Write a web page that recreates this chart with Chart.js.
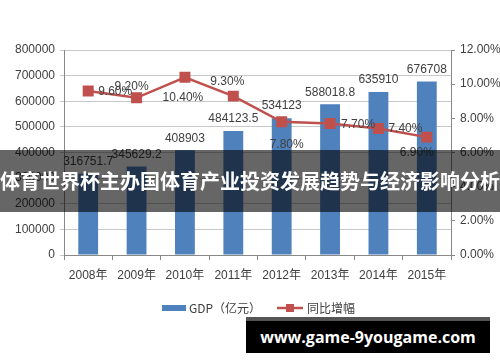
<!DOCTYPE html>
<html>
<head>
<meta charset="utf-8">
<script src="https://cdn.jsdelivr.net/npm/chart.js@4.4.1/dist/chart.umd.min.js"></script>
<style>
  html, body { margin: 0; padding: 0; background: #fff; }
  #wrap { position: relative; width: 500px; height: 362px; overflow: hidden; }
  #band {
    position: absolute; left: 0; top: 150px; width: 500px; height: 62px;
    background: rgba(0, 0, 0, 0.6); color: #fff;
    font: bold 20px "Noto Sans CJK SC", sans-serif;
    line-height: 62px; text-align: center; white-space: nowrap;
  }
  #mark {
    position: absolute; left: 246px; top: 317px; width: 244px; height: 32px;
    background: #000; border-top: 4px solid #555; color: #fff;
    font: bold 16px "Open Sans", sans-serif; line-height: 32px; text-align: center;
    white-space: nowrap;
  }
</style>
</head>
<body>
<div id="wrap">
  <canvas id="gdpChart" width="500" height="362"></canvas>
  <div id="band">体育世界杯主办国体育产业投资发展趋势与经济影响分析</div>
  <div id="mark">www.game-9yougame.com</div>
</div>
<script>
const years = ["2008年", "2009年", "2010年", "2011年", "2012年", "2013年", "2014年", "2015年"];
const gdp = [316751.7, 345629.2, 408903, 484123.5, 534123, 588018.8, 635910, 676708];
const growth = [9.6, 9.2, 10.4, 9.3, 7.8, 7.7, 7.4, 6.9];
const gdpLabels = ["316751.7", "345629.2", "408903", "484123.5", "534123", "588018.8", "635910", "676708"];
const growthLabels = ["9.60%", "9.20%", "10.40%", "9.30%", "7.80%", "7.70%", "7.40%", "6.90%"];

// where each growth label sits relative to its point (Excel placed them by hand)
const growthLabelShift = [[27, 1], [-5, -11], [-2, 20], [-6, -14], [5, 23], [28, 1], [27, 0], [-10, 16]];

const blue = "#4f81bd";
const red = "#c0504d";
const textColor = "#404040";
const font = '12px "Liberation Sans", "Noto Sans CJK SC", sans-serif';

const labelPlugin = {
  id: "valueLabels",
  afterDatasetsDraw(chart) {
    const ctx = chart.ctx;
    ctx.save();
    ctx.font = font;
    ctx.fillStyle = textColor;
    ctx.textAlign = "center";
    ctx.textBaseline = "middle";

    chart.getDatasetMeta(0).data.forEach((bar, i) => {
      ctx.fillText(gdpLabels[i], bar.x, bar.y - 12);
    });
    chart.getDatasetMeta(1).data.forEach((pt, i) => {
      const s = growthLabelShift[i];
      ctx.fillText(growthLabels[i], pt.x + s[0], pt.y + s[1]);
    });

    // legend
    const ly = 308;
    ctx.fillStyle = blue;
    ctx.fillRect(162, ly - 3, 24, 6);
    ctx.fillStyle = textColor;
    ctx.textAlign = "left";
    ctx.font = '12px "Noto Sans CJK SC", sans-serif';
    ctx.fillText("GDP（亿元）", 189, ly);
    ctx.strokeStyle = red;
    ctx.lineWidth = 2.5;
    ctx.beginPath();
    ctx.moveTo(277, ly);
    ctx.lineTo(303, ly);
    ctx.stroke();
    ctx.fillStyle = red;
    ctx.fillRect(286, ly - 4, 8, 8);
    ctx.fillStyle = textColor;
    ctx.fillText("同比增幅", 307, ly);
    ctx.restore();
  }
};

const canvas = document.getElementById("gdpChart");
new Chart(canvas.getContext("2d"), {
  type: "bar",
  data: {
    labels: years,
    datasets: [
      {
        label: "GDP（亿元）",
        data: gdp,
        backgroundColor: blue,
        yAxisID: "y",
        barPercentage: 0.41,
        categoryPercentage: 1,
        order: 2
      },
      {
        type: "line",
        label: "同比增幅",
        data: growth,
        borderColor: red,
        backgroundColor: red,
        borderWidth: 2.5,
        pointStyle: "rect",
        pointRadius: 6,
        pointHoverRadius: 6,
        yAxisID: "y1",
        order: 1
      }
    ]
  },
  options: {
    responsive: false,
    animation: false,
    layout: { padding: { top: 50, left: 0, right: 0, bottom: 0 } },
    plugins: {
      legend: { display: false },
      tooltip: { enabled: false }
    },
    scales: {
      x: {
        offset: true,
        grid: { drawOnChartArea: false, offset: true, tickLength: 5, color: "#888" },
        border: { color: "#888" },
        ticks: { color: textColor, font: { size: 12, family: '"Liberation Sans", "Noto Sans CJK SC"' }, padding: 8, maxRotation: 0 },
        afterFit(s) { s.height = 107; }
      },
      y: {
        position: "left",
        min: 0,
        max: 800000,
        ticks: {
          stepSize: 100000, color: textColor, font: { size: 12, family: '"Liberation Sans"' }, padding: 5,
          callback: v => String(v)
        },
        grid: { color: "#c8c8c8", tickLength: 4 },
        border: { color: "#888" },
        afterFit(s) { s.width = 64; }
      },
      y1: {
        position: "right",
        min: 0,
        max: 12,
        ticks: {
          stepSize: 2, color: textColor, font: { size: 12, family: '"Liberation Sans"' }, padding: 5,
          callback: v => v.toFixed(2) + "%"
        },
        grid: { drawOnChartArea: false, tickLength: 4, color: "#888" },
        border: { color: "#888" },
        afterFit(s) { s.width = 49; }
      }
    }
  },
  plugins: [labelPlugin]
});
</script>
</body>
</html>
